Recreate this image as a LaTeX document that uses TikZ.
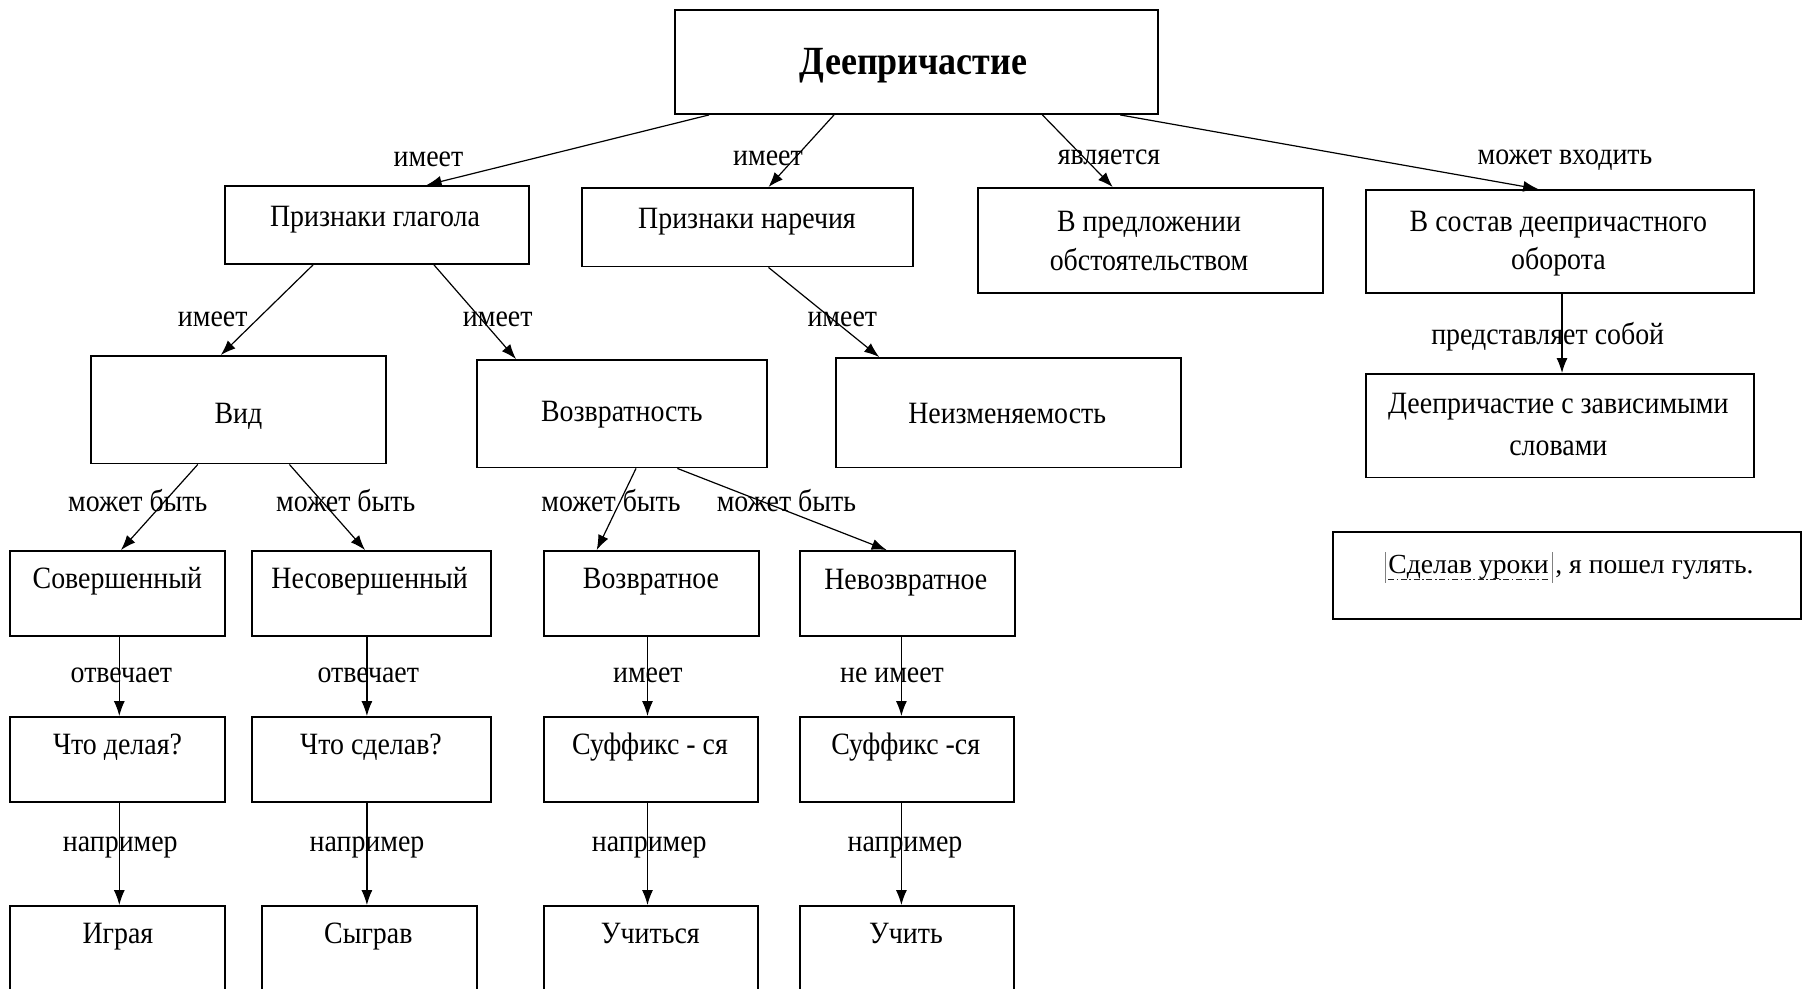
\documentclass[tikz,border=0pt]{standalone}
\usepackage{fontspec}
\setmainfont{Liberation Serif}[FakeStretch=0.9]
\newfontfamily\exfont{Liberation Serif}
\usetikzlibrary{arrows.meta,fit}
\begin{document}
\begin{tikzpicture}[x=0.5pt,y=-0.5pt,
  box/.style={draw, line width=0.95pt, inner sep=0pt},
  txt/.style={inner sep=0pt, anchor=base, font=\fontsize{15.5pt}{18pt}\selectfont},
  lbl/.style={inner sep=0pt, anchor=base, font=\fontsize{15.5pt}{18pt}\selectfont},
  arr/.style={line width=0.6pt, -{Latex[length=7.5pt,width=5.5pt]}},
  extxt/.style={inner sep=0pt, font=\exfont\fontsize{13.8pt}{16pt}\selectfont},
  bar/.style={line width=0.5pt, gray},
  undl/.style={line width=0.7pt, black!85, dash pattern=on 3pt off 1.3pt on 0.8pt off 1.3pt},
]
\useasboundingbox (0,0) rectangle (1808,989);

% boxes
\node[box, fit={(675,10) (1158,114)}] (top) {};
\node[box, fit={(225,186) (529,264)}] (pg) {};
\node[box, fit={(582,188) (913,266.5)}] (pn) {};
\node[box, fit={(978,188) (1323,293)}] (pred) {};
\node[box, fit={(1366,190) (1754,293)}] (sost) {};
\node[box, fit={(91,356) (386,463.5)}] (vid) {};
\node[box, fit={(477,360) (767,467.5)}] (vozv) {};
\node[box, fit={(836,358) (1181,467.5)}] (neizm) {};
\node[box, fit={(1366,374) (1754,477.5)}] (dz) {};
\node[box, fit={(1333,532) (1801,619)}] (ex) {};
\node[box, fit={(10,551) (225,636)}] (sov) {};
\node[box, fit={(252,551) (491,636)}] (nesov) {};
\node[box, fit={(544,551) (759,636)}] (vozvr) {};
\node[box, fit={(800,551) (1015,636)}] (nevozvr) {};
\node[box, fit={(10,717) (225,802)}] (chd) {};
\node[box, fit={(252,717) (491,802)}] (chs) {};
\node[box, fit={(544,717) (758,802)}] (suf1) {};
\node[box, fit={(800,717) (1014,802)}] (suf2) {};
\node[box, fit={(10,906) (225,990)}] (igr) {};
\node[box, fit={(262,906) (477,990)}] (sygr) {};
\node[box, fit={(544,906) (758,990)}] (uch1) {};
\node[box, fit={(800,906) (1014,990)}] (uch2) {};

% box texts
\node[txt, font=\bfseries\fontsize{20pt}{24pt}\selectfont] (top-t) at (913.5,75) {Деепричастие};
\node[txt] (pg-t) at (375,227) {Признаки глагола};
\node[txt] (pn-t) at (747,228.5) {Признаки наречия};
\node[txt] (pred-t1) at (1149,232) {В предложении};
\node[txt] (pred-t2) at (1149,270.5) {обстоятельством};
\node[txt] (sost-t1) at (1558.4,232) {В состав деепричастного};
\node[txt] (sost-t2) at (1558.4,270) {оборота};
\node[txt] (vid-t) at (238.4,423) {Вид};
\node[txt] (vozv-t) at (621.8,421) {Возвратность};
\node[txt] (neizm-t) at (1007.2,423) {Неизменяемость};
\node[txt] (dz-t1) at (1558.3,414) {Деепричастие с зависимыми};
\node[txt] (dz-t2) at (1558.3,455) {словами};
\node[txt] (sov-t) at (117.3,588.5) {Совершенный};
\node[txt] (nesov-t) at (369.6,588.5) {Несовершенный};
\node[txt] (vozvr-t) at (651,588.5) {Возвратное};
\node[txt] (nevozvr-t) at (905.8,589.5) {Невозвратное};
\node[txt] (chd-t) at (117.5,754.5) {Что делая?};
\node[txt] (chs-t) at (371,754.5) {Что сделав?};
\node[txt] (suf1-t) at (650,754.5) {Суффикс - ся};
\node[txt] (suf2-t) at (905.7,754.5) {Суффикс -ся};
\node[txt] (igr-t) at (117.9,943.3) {Играя};
\node[txt] (sygr-t) at (368.3,943.3) {Сыграв};
\node[txt] (uch1-t) at (650.3,943.3) {Учиться};
\node[txt] (uch2-t) at (906,943.3) {Учить};

% example sentence
\node[extxt, anchor=base west] (exA) at (1388,573.5) {Сделав уроки};
\node[extxt, anchor=base west] (exB) at ([xshift=3pt]exA.base east) {, я пошел гулять.};
\draw[undl] ([yshift=-3pt]exA.base west) -- ([yshift=-3pt]exA.base east);
\draw[bar] ([xshift=-1.5pt,yshift=-4.5pt]exA.base west) -- ([xshift=-1.5pt,yshift=11pt]exA.base west);
\draw[bar] ([xshift=1.5pt,yshift=-4.5pt]exA.base east) -- ([xshift=1.5pt,yshift=11pt]exA.base east);

% connectors
\draw[arr] (709,0 |- top.south) -- (426.6,0 |- pg.north);
\draw[arr] (834,0 |- top.south) -- (768.5,0 |- pn.north);
\draw[arr] (1042.4,0 |- top.south) -- (1112.7,0 |- pred.north);
\draw[arr] (1120.2,0 |- top.south) -- (1538.2,0 |- sost.north);
\draw[arr] (313,0 |- pg.south) -- (220.8,0 |- vid.north);
\draw[arr] (434,0 |- pg.south) -- (516,0 |- vozv.north);
\draw[arr] (768.5,0 |- pn.south) -- (879.2,0 |- neizm.north);
\draw[arr] (1562,0 |- sost.south) -- (1562,0 |- dz.north);
\draw[arr] (197.8,0 |- vid.south) -- (121,0 |- sov.north);
\draw[arr] (289.4,0 |- vid.south) -- (365,0 |- nesov.north);
\draw[arr] (636,0 |- vozv.south) -- (596.7,0 |- vozvr.north);
\draw[arr] (677.4,0 |- vozv.south) -- (886.7,0 |- nevozvr.north);
\draw[arr] (119.3,0 |- sov.south) -- (119.3,0 |- chd.north);
\draw[arr] (366.9,0 |- nesov.south) -- (366.9,0 |- chs.north);
\draw[arr] (647.5,0 |- vozvr.south) -- (647.5,0 |- suf1.north);
\draw[arr] (901.4,0 |- nevozvr.south) -- (901.4,0 |- suf2.north);
\draw[arr] (119.3,0 |- chd.south) -- (119.3,0 |- igr.north);
\draw[arr] (366.9,0 |- chs.south) -- (366.9,0 |- sygr.north);
\draw[arr] (647.5,0 |- suf1.south) -- (647.5,0 |- uch1.north);
\draw[arr] (901.4,0 |- suf2.south) -- (901.4,0 |- uch2.north);

% connector labels
\node[lbl] (l1) at (428.5,166.5) {имеет};
\node[lbl] (l2) at (768,166) {имеет};
\node[lbl] (l3) at (1109,165) {является};
\node[lbl] (l4) at (1565,165) {может входить};
\node[lbl] (l5) at (212.7,327) {имеет};
\node[lbl] (l6) at (497.7,327) {имеет};
\node[lbl] (l7) at (842.3,327) {имеет};
\node[lbl] (l8) at (1547.7,345) {представляет собой};
\node[lbl] (l9) at (137.8,511) {может быть};
\node[lbl] (l10) at (345.7,511) {может быть};
\node[lbl] (l11) at (611,511) {может быть};
\node[lbl] (l12) at (786.4,511) {может быть};
\node[lbl] (l13) at (121.4,682) {отвечает};
\node[lbl] (l14) at (368.3,682) {отвечает};
\node[lbl] (l15) at (647.9,682) {имеет};
\node[lbl] (l16) at (892,682) {не имеет};
\node[lbl] (l17) at (120.3,851) {например};
\node[lbl] (l18) at (367,851) {например};
\node[lbl] (l19) at (649.3,851) {например};
\node[lbl] (l20) at (905,851) {например};
\end{tikzpicture}
\end{document}
